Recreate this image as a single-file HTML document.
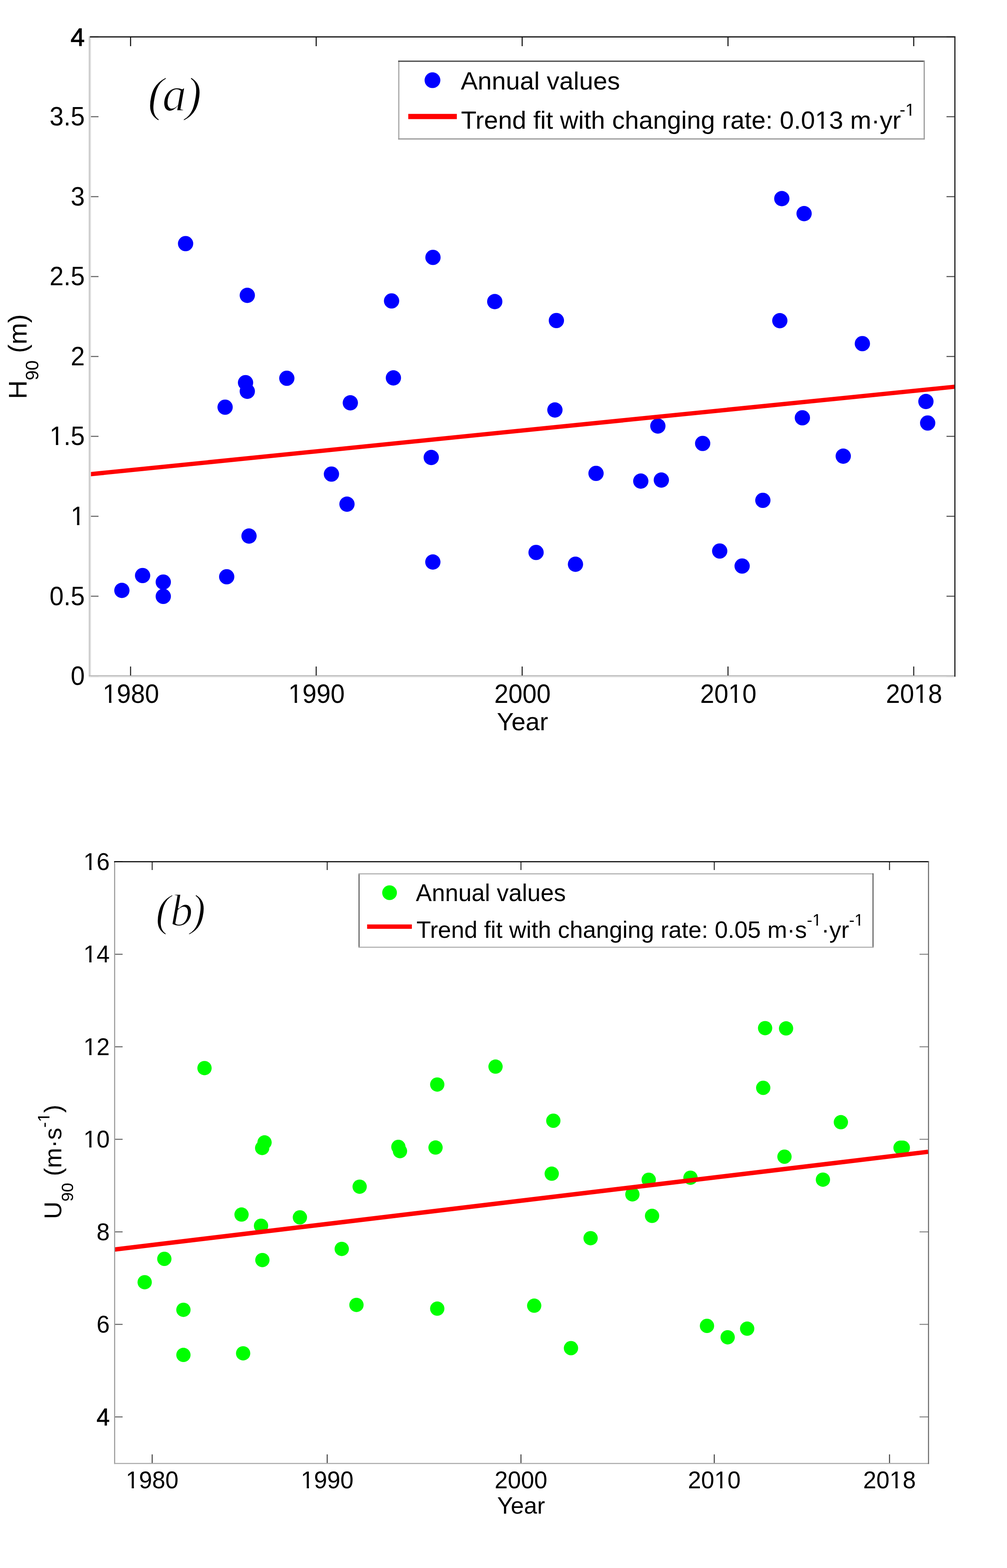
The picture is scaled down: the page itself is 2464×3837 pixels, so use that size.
<!DOCTYPE html>
<html><head><meta charset="utf-8"><title>H90 and U90 annual values with trend fits</title>
<style>html,body{margin:0;padding:0;background:#fff;}svg{display:block;}.t{font-family:'Liberation Sans', Arial, sans-serif;fill:#000;}.s{font-family:'Liberation Serif', 'Times New Roman', serif;font-style:italic;fill:#000;}</style>
</head><body>
<svg width="2464" height="3837" viewBox="0 0 2464 3837">
<rect x="0" y="0" width="2464" height="3837" fill="#fff"/>
<g id="panel-a">
<circle cx="298.2" cy="1444.8" r="18.7" fill="#0000ff"/>
<circle cx="348.9" cy="1408.4" r="18.7" fill="#0000ff"/>
<circle cx="399.5" cy="1424.4" r="18.7" fill="#0000ff"/>
<circle cx="399.5" cy="1459.4" r="18.7" fill="#0000ff"/>
<circle cx="454.1" cy="596.1" r="18.7" fill="#0000ff"/>
<circle cx="550.8" cy="996.4" r="18.7" fill="#0000ff"/>
<circle cx="554.7" cy="1411.4" r="18.7" fill="#0000ff"/>
<circle cx="600.8" cy="936.4" r="18.7" fill="#0000ff"/>
<circle cx="605.1" cy="957.5" r="18.7" fill="#0000ff"/>
<circle cx="605.1" cy="722.7" r="18.7" fill="#0000ff"/>
<circle cx="609.3" cy="1311.7" r="18.7" fill="#0000ff"/>
<circle cx="701.8" cy="925.6" r="18.7" fill="#0000ff"/>
<circle cx="811" cy="1160.1" r="18.7" fill="#0000ff"/>
<circle cx="849" cy="1233.7" r="18.7" fill="#0000ff"/>
<circle cx="857.2" cy="985.8" r="18.7" fill="#0000ff"/>
<circle cx="958.1" cy="736.4" r="18.7" fill="#0000ff"/>
<circle cx="962.6" cy="924.7" r="18.7" fill="#0000ff"/>
<circle cx="1059.4" cy="629.9" r="18.7" fill="#0000ff"/>
<circle cx="1055.2" cy="1119.5" r="18.7" fill="#0000ff"/>
<circle cx="1059.1" cy="1375.3" r="18.7" fill="#0000ff"/>
<circle cx="1210.6" cy="738" r="18.7" fill="#0000ff"/>
<circle cx="1311.7" cy="1351.9" r="18.7" fill="#0000ff"/>
<circle cx="1361.4" cy="784.4" r="18.7" fill="#0000ff"/>
<circle cx="1357.8" cy="1003.2" r="18.7" fill="#0000ff"/>
<circle cx="1408.1" cy="1380.8" r="18.7" fill="#0000ff"/>
<circle cx="1458.4" cy="1158.4" r="18.7" fill="#0000ff"/>
<circle cx="1567.9" cy="1177.3" r="18.7" fill="#0000ff"/>
<circle cx="1618.2" cy="1174.7" r="18.7" fill="#0000ff"/>
<circle cx="1609.7" cy="1042.5" r="18.7" fill="#0000ff"/>
<circle cx="1719.3" cy="1085.1" r="18.7" fill="#0000ff"/>
<circle cx="1761" cy="1348.4" r="18.7" fill="#0000ff"/>
<circle cx="1815.9" cy="1385.1" r="18.7" fill="#0000ff"/>
<circle cx="1866.6" cy="1224.4" r="18.7" fill="#0000ff"/>
<circle cx="1908.1" cy="784.7" r="18.7" fill="#0000ff"/>
<circle cx="1913" cy="486" r="18.7" fill="#0000ff"/>
<circle cx="1967.5" cy="522.7" r="18.7" fill="#0000ff"/>
<circle cx="1963.3" cy="1022.4" r="18.7" fill="#0000ff"/>
<circle cx="2063.3" cy="1116.2" r="18.7" fill="#0000ff"/>
<circle cx="2110.1" cy="840.9" r="18.7" fill="#0000ff"/>
<circle cx="2265.6" cy="982.5" r="18.7" fill="#0000ff"/>
<circle cx="2269.9" cy="1035.1" r="18.7" fill="#0000ff"/>
<line x1="220" y1="1160.5" x2="2336" y2="946.4" stroke="#ff0000" stroke-width="10.5"/>
<rect x="222" y="1653.2" width="19" height="2.6" fill="#666"/>
<rect x="2316" y="1653.2" width="19.5" height="2.6" fill="#555"/>
<rect x="222" y="1457.7" width="19" height="2.6" fill="#666"/>
<rect x="2316" y="1457.7" width="19.5" height="2.6" fill="#555"/>
<rect x="222" y="1262.1" width="19" height="2.6" fill="#666"/>
<rect x="2316" y="1262.1" width="19.5" height="2.6" fill="#555"/>
<rect x="222" y="1066.5" width="19" height="2.6" fill="#666"/>
<rect x="2316" y="1066.5" width="19.5" height="2.6" fill="#555"/>
<rect x="222" y="871" width="19" height="2.6" fill="#666"/>
<rect x="2316" y="871" width="19.5" height="2.6" fill="#555"/>
<rect x="222" y="675.5" width="19" height="2.6" fill="#666"/>
<rect x="2316" y="675.5" width="19.5" height="2.6" fill="#555"/>
<rect x="222" y="479.9" width="19" height="2.6" fill="#666"/>
<rect x="2316" y="479.9" width="19.5" height="2.6" fill="#555"/>
<rect x="222" y="284.3" width="19" height="2.6" fill="#666"/>
<rect x="2316" y="284.3" width="19.5" height="2.6" fill="#555"/>
<rect x="222" y="88.8" width="19" height="2.6" fill="#666"/>
<rect x="2316" y="88.8" width="19.5" height="2.6" fill="#555"/>
<rect x="217" y="88.8" width="3" height="1566" fill="#cccccc"/>
<rect x="220" y="88.8" width="2.6" height="1566" fill="#dedede"/>
<rect x="217" y="1652.3" width="2121" height="2.8" fill="#bbbbbb"/>
<rect x="217" y="1655.1" width="2121" height="2.6" fill="#e6e6e6"/>
<rect x="220" y="88.8" width="2118" height="2.9" fill="#111111"/>
<rect x="2335" y="88.8" width="3" height="1567" fill="#2a2a2a"/>
<rect x="318.2" y="91" width="2.6" height="22" fill="#111"/>
<rect x="318.2" y="1631" width="2.6" height="22" fill="#222"/>
<rect x="772.4" y="91" width="2.6" height="22" fill="#111"/>
<rect x="772.4" y="1631" width="2.6" height="22" fill="#222"/>
<rect x="1276.4" y="91" width="2.6" height="22" fill="#111"/>
<rect x="1276.4" y="1631" width="2.6" height="22" fill="#222"/>
<rect x="1780" y="91" width="2.6" height="22" fill="#111"/>
<rect x="1780" y="1631" width="2.6" height="22" fill="#222"/>
<rect x="2234.5" y="91" width="2.6" height="22" fill="#111"/>
<rect x="2234.5" y="1631" width="2.6" height="22" fill="#222"/>
<g transform="translate(207.5,1676.1) scale(1,1.035)"><text class="t" font-size="62" text-anchor="end">0</text></g>
<g transform="translate(207.5,1480.5) scale(1,1.035)"><text class="t" font-size="62" text-anchor="end">0.5</text></g>
<g transform="translate(207.5,1285) scale(1,1.035)"><text id="q1" class="t" font-size="62" text-anchor="end">1</text><rect x="-31.36" y="-5.43" width="12.35" height="6.33" fill="#fff"/><rect x="-13.29" y="-5.43" width="11.86" height="6.33" fill="#fff"/></g>
<g transform="translate(207.5,1089.4) scale(1,1.035)"><text id="q2" class="t" font-size="62" text-anchor="end">1.5</text><rect x="-83.04" y="-5.43" width="12.35" height="6.33" fill="#fff"/><rect x="-64.97" y="-5.43" width="11.86" height="6.33" fill="#fff"/></g>
<g transform="translate(207.5,893.9) scale(1,1.035)"><text class="t" font-size="62" text-anchor="end">2</text></g>
<g transform="translate(207.5,698.4) scale(1,1.035)"><text class="t" font-size="62" text-anchor="end">2.5</text></g>
<g transform="translate(207.5,502.8) scale(1,1.035)"><text class="t" font-size="62" text-anchor="end">3</text></g>
<g transform="translate(207.5,307.2) scale(1,1.035)"><text class="t" font-size="62" text-anchor="end">3.5</text></g>
<text class="t" x="207.2" y="112.4" font-size="62" text-anchor="end" stroke="#000" stroke-width="1.3">4</text>
<g transform="translate(320.3,1719.6) scale(1,1.035)"><text id="q3" class="t" font-size="62" text-anchor="middle">1980</text><rect x="-65.82" y="-5.43" width="12.35" height="6.33" fill="#fff"/><rect x="-47.75" y="-5.43" width="11.86" height="6.33" fill="#fff"/></g>
<g transform="translate(774.5,1719.6) scale(1,1.035)"><text id="q4" class="t" font-size="62" text-anchor="middle">1990</text><rect x="-65.82" y="-5.43" width="12.35" height="6.33" fill="#fff"/><rect x="-47.75" y="-5.43" width="11.86" height="6.33" fill="#fff"/></g>
<g transform="translate(1278.5,1719.6) scale(1,1.035)"><text class="t" font-size="62" text-anchor="middle">2000</text></g>
<g transform="translate(1782.1,1719.6) scale(1,1.035)"><text id="q5" class="t" font-size="62" text-anchor="middle">2010</text><rect x="3.12" y="-5.43" width="12.35" height="6.33" fill="#fff"/><rect x="21.18" y="-5.43" width="11.86" height="6.33" fill="#fff"/></g>
<g transform="translate(2236.6,1719.6) scale(1,1.035)"><text id="q6" class="t" font-size="62" text-anchor="middle">2018</text><rect x="3.12" y="-5.43" width="12.35" height="6.33" fill="#fff"/><rect x="21.18" y="-5.43" width="11.86" height="6.33" fill="#fff"/></g>
<text class="t" x="1278.5" y="1786.6" font-size="62" text-anchor="middle">Year</text>
<text class="t" transform="translate(65,976.5) rotate(-90)" font-size="63.5">H<tspan font-size="44" dy="29">90</tspan><tspan dy="-29"> (m)</tspan></text>
<text class="s" x="362" y="271" font-size="118" stroke="#fff" stroke-width="2.2">(<tspan dx="-4">a</tspan><tspan dx="-2.5">)</tspan></text>
<rect x="975.8" y="149.7" width="1285.7" height="190.3" fill="#fff"/>
<rect x="974.3" y="148.3" width="3" height="193" fill="#aaaaaa"/>
<rect x="974.3" y="148.3" width="1288.5" height="3" fill="#444444"/>
<rect x="2260" y="148.3" width="2.8" height="193" fill="#999999"/>
<rect x="974.3" y="338.5" width="1288.5" height="3" fill="#999999"/>
<circle cx="1058.2" cy="196.3" r="19.3" fill="#0000ff"/>
<text class="t" x="1127.5" y="218.6" font-size="62">Annual values</text>
<rect x="999" y="278.7" width="118.8" height="12.8" fill="#ff0000"/>
<g transform="translate(1128,314.5)"><text id="q7" class="t" font-size="62">Trend fit with changing rate: 0.013 m·yr<tspan font-size="42" dx="-3" dy="-32">-1</tspan></text><rect x="869.30" y="-5.43" width="12.35" height="6.33" fill="#fff"/><rect x="887.37" y="-5.43" width="11.87" height="6.33" fill="#fff"/><rect x="1088.90" y="-35.94" width="8.85" height="4.84" fill="#fff"/><rect x="1101.70" y="-35.94" width="8.52" height="4.84" fill="#fff"/></g>
</g>
<g id="panel-b">
<circle cx="354" cy="3137.7" r="17.5" fill="#00ff00"/>
<circle cx="402.1" cy="3080.5" r="17.5" fill="#00ff00"/>
<circle cx="448.8" cy="3205.2" r="17.5" fill="#00ff00"/>
<circle cx="448.8" cy="3315.6" r="17.5" fill="#00ff00"/>
<circle cx="500.4" cy="2613.7" r="17.5" fill="#00ff00"/>
<circle cx="591" cy="2972.1" r="17.5" fill="#00ff00"/>
<circle cx="594.9" cy="3311.7" r="17.5" fill="#00ff00"/>
<circle cx="638.7" cy="2999.5" r="17.5" fill="#00ff00"/>
<circle cx="642" cy="3083.4" r="17.5" fill="#00ff00"/>
<circle cx="641.5" cy="2809.2" r="17.5" fill="#00ff00"/>
<circle cx="647.3" cy="2795.6" r="17.5" fill="#00ff00"/>
<circle cx="733.8" cy="2979" r="17.5" fill="#00ff00"/>
<circle cx="836.2" cy="3056.2" r="17.5" fill="#00ff00"/>
<circle cx="872.2" cy="3193.2" r="17.5" fill="#00ff00"/>
<circle cx="880" cy="2903.9" r="17.5" fill="#00ff00"/>
<circle cx="974.8" cy="2806.5" r="17.5" fill="#00ff00"/>
<circle cx="978.7" cy="2816.9" r="17.5" fill="#00ff00"/>
<circle cx="1069.9" cy="2653.9" r="17.5" fill="#00ff00"/>
<circle cx="1065.7" cy="2808.1" r="17.5" fill="#00ff00"/>
<circle cx="1069.9" cy="3202.3" r="17.5" fill="#00ff00"/>
<circle cx="1212.5" cy="2610.1" r="17.5" fill="#00ff00"/>
<circle cx="1307.1" cy="3195.1" r="17.5" fill="#00ff00"/>
<circle cx="1353.9" cy="2742.5" r="17.5" fill="#00ff00"/>
<circle cx="1350" cy="2872.1" r="17.5" fill="#00ff00"/>
<circle cx="1397.1" cy="3299" r="17.5" fill="#00ff00"/>
<circle cx="1445.1" cy="3029.9" r="17.5" fill="#00ff00"/>
<circle cx="1547.4" cy="2922.7" r="17.5" fill="#00ff00"/>
<circle cx="1587.3" cy="2887" r="17.5" fill="#00ff00"/>
<circle cx="1595.5" cy="2975.3" r="17.5" fill="#00ff00"/>
<circle cx="1689.5" cy="2881.9" r="17.5" fill="#00ff00"/>
<circle cx="1729.9" cy="3244.5" r="17.5" fill="#00ff00"/>
<circle cx="1780.5" cy="3272.4" r="17.5" fill="#00ff00"/>
<circle cx="1828.2" cy="3251.3" r="17.5" fill="#00ff00"/>
<circle cx="1867.5" cy="2662" r="17.5" fill="#00ff00"/>
<circle cx="1872.1" cy="2515.9" r="17.5" fill="#00ff00"/>
<circle cx="1923.4" cy="2516.6" r="17.5" fill="#00ff00"/>
<circle cx="1919.5" cy="2830.5" r="17.5" fill="#00ff00"/>
<circle cx="2013.6" cy="2886.7" r="17.5" fill="#00ff00"/>
<circle cx="2057.5" cy="2746.1" r="17.5" fill="#00ff00"/>
<circle cx="2203.5" cy="2808.5" r="17.5" fill="#00ff00"/>
<circle cx="2209" cy="2808.5" r="17.5" fill="#00ff00"/>
<line x1="280.5" y1="3057.6" x2="2271" y2="2818.5" stroke="#ff0000" stroke-width="10.8"/>
<rect x="371.1" y="2109" width="2.5" height="20" fill="#333"/>
<rect x="371.1" y="3559" width="2.5" height="21" fill="#444"/>
<rect x="799.4" y="2109" width="2.5" height="20" fill="#333"/>
<rect x="799.4" y="3559" width="2.5" height="21" fill="#444"/>
<rect x="1273.5" y="2109" width="2.5" height="20" fill="#333"/>
<rect x="1273.5" y="3559" width="2.5" height="21" fill="#444"/>
<rect x="1746.5" y="2109" width="2.5" height="20" fill="#333"/>
<rect x="1746.5" y="3559" width="2.5" height="21" fill="#444"/>
<rect x="2175.3" y="2109" width="2.5" height="20" fill="#333"/>
<rect x="2175.3" y="3559" width="2.5" height="21" fill="#444"/>
<rect x="281" y="3466" width="19" height="2.5" fill="#666"/>
<rect x="2250" y="3466" width="21" height="2.5" fill="#888"/>
<rect x="281" y="3239.6" width="19" height="2.5" fill="#666"/>
<rect x="2250" y="3239.6" width="21" height="2.5" fill="#888"/>
<rect x="281" y="3013.2" width="19" height="2.5" fill="#666"/>
<rect x="2250" y="3013.2" width="21" height="2.5" fill="#888"/>
<rect x="281" y="2786.7" width="19" height="2.5" fill="#666"/>
<rect x="2250" y="2786.7" width="21" height="2.5" fill="#888"/>
<rect x="281" y="2560.3" width="19" height="2.5" fill="#666"/>
<rect x="2250" y="2560.3" width="21" height="2.5" fill="#888"/>
<rect x="281" y="2333.9" width="19" height="2.5" fill="#666"/>
<rect x="2250" y="2333.9" width="21" height="2.5" fill="#888"/>
<rect x="281" y="2107.4" width="19" height="2.5" fill="#666"/>
<rect x="2250" y="2107.4" width="21" height="2.5" fill="#888"/>
<rect x="279.2" y="2107.4" width="2.6" height="1475" fill="#999999"/>
<rect x="279.2" y="3579.9" width="1994" height="2.6" fill="#aaaaaa"/>
<rect x="279.2" y="2107.4" width="1994" height="2.6" fill="#000000"/>
<rect x="2270.7" y="2107.4" width="2.5" height="1475" fill="#666666"/>
<g transform="translate(268.5,3487.6) scale(1,1.035)"><text class="t" font-size="58" text-anchor="end" stroke="#000" stroke-width="0.9">4</text></g>
<g transform="translate(268.5,3261.2) scale(1,1.035)"><text class="t" font-size="58" text-anchor="end">6</text></g>
<g transform="translate(268.5,3034.7) scale(1,1.035)"><text class="t" font-size="58" text-anchor="end">8</text></g>
<g transform="translate(268.5,2808.3) scale(1,1.035)"><text id="q8" class="t" font-size="58" text-anchor="end">10</text><rect x="-61.70" y="-5.13" width="11.65" height="6.03" fill="#fff"/><rect x="-44.69" y="-5.13" width="11.19" height="6.03" fill="#fff"/></g>
<g transform="translate(268.5,2581.9) scale(1,1.035)"><text id="q9" class="t" font-size="58" text-anchor="end">12</text><rect x="-61.70" y="-5.13" width="11.65" height="6.03" fill="#fff"/><rect x="-44.69" y="-5.13" width="11.19" height="6.03" fill="#fff"/></g>
<g transform="translate(268.5,2355.4) scale(1,1.035)"><text id="q10" class="t" font-size="58" text-anchor="end">14</text><rect x="-61.70" y="-5.13" width="11.65" height="6.03" fill="#fff"/><rect x="-44.69" y="-5.13" width="11.19" height="6.03" fill="#fff"/></g>
<g transform="translate(268.5,2129) scale(1,1.035)"><text id="q11" class="t" font-size="58" text-anchor="end">16</text><rect x="-61.70" y="-5.13" width="11.65" height="6.03" fill="#fff"/><rect x="-44.69" y="-5.13" width="11.19" height="6.03" fill="#fff"/></g>
<g transform="translate(372.3,3642) scale(1,1.035)"><text id="q12" class="t" font-size="58" text-anchor="middle">1980</text><rect x="-61.69" y="-5.13" width="11.65" height="6.03" fill="#fff"/><rect x="-44.68" y="-5.13" width="11.19" height="6.03" fill="#fff"/></g>
<g transform="translate(800.6,3642) scale(1,1.035)"><text id="q13" class="t" font-size="58" text-anchor="middle">1990</text><rect x="-61.69" y="-5.13" width="11.65" height="6.03" fill="#fff"/><rect x="-44.68" y="-5.13" width="11.19" height="6.03" fill="#fff"/></g>
<g transform="translate(1274.8,3642) scale(1,1.035)"><text class="t" font-size="58" text-anchor="middle">2000</text></g>
<g transform="translate(1747.7,3642) scale(1,1.035)"><text id="q14" class="t" font-size="58" text-anchor="middle">2010</text><rect x="2.81" y="-5.13" width="11.65" height="6.03" fill="#fff"/><rect x="19.82" y="-5.13" width="11.19" height="6.03" fill="#fff"/></g>
<g transform="translate(2176.6,3642) scale(1,1.035)"><text id="q15" class="t" font-size="58" text-anchor="middle">2018</text><rect x="2.81" y="-5.13" width="11.65" height="6.03" fill="#fff"/><rect x="19.82" y="-5.13" width="11.19" height="6.03" fill="#fff"/></g>
<text class="t" x="1275" y="3704" font-size="58" text-anchor="middle">Year</text>
<g transform="translate(150.3,2983) rotate(-90)"><text id="q16" class="t" font-size="59.3">U<tspan font-size="41" dy="29">90</tspan><tspan dy="-29"> (m·s</tspan><tspan font-size="41" dy="-29">-1</tspan><tspan dy="29">)</tspan></text><rect x="238.62" y="-32.87" width="8.68" height="4.77" fill="#fff"/><rect x="251.16" y="-32.87" width="8.35" height="4.77" fill="#fff"/></g>
<text class="s" x="381" y="2265" font-size="110" stroke="#fff" stroke-width="2.2">(<tspan dx="-1">b</tspan><tspan dx="-5.5">)</tspan></text>
<rect x="878.5" y="2138.4" width="1257.6" height="179.1" fill="#fff"/>
<rect x="877.3" y="2137.1" width="2.5" height="182" fill="#555555"/>
<rect x="877.3" y="2137.1" width="1260" height="2.5" fill="#aaaaaa"/>
<rect x="2134.9" y="2137.1" width="2.5" height="182" fill="#555555"/>
<rect x="877.3" y="2316.7" width="1260" height="2.5" fill="#aaaaaa"/>
<circle cx="953.2" cy="2184.5" r="18" fill="#00ff00"/>
<text class="t" x="1017.5" y="2204.7" font-size="58.4">Annual values</text>
<rect x="898.3" y="2262.2" width="109.5" height="10.7" fill="#ff0000"/>
<g transform="translate(1019,2295)"><text id="q17" class="t" font-size="58">Trend fit with changing rate: 0.05 m·s<tspan font-size="40" dy="-30">-1</tspan><tspan dy="30">·yr</tspan><tspan font-size="40" dy="-30">-1</tspan></text><rect x="970.07" y="-33.79" width="8.50" height="4.69" fill="#fff"/><rect x="982.35" y="-33.79" width="8.19" height="4.69" fill="#fff"/><rect x="1073.29" y="-33.79" width="8.50" height="4.69" fill="#fff"/><rect x="1085.57" y="-33.79" width="8.19" height="4.69" fill="#fff"/></g>
</g>
</svg>
</body></html>
